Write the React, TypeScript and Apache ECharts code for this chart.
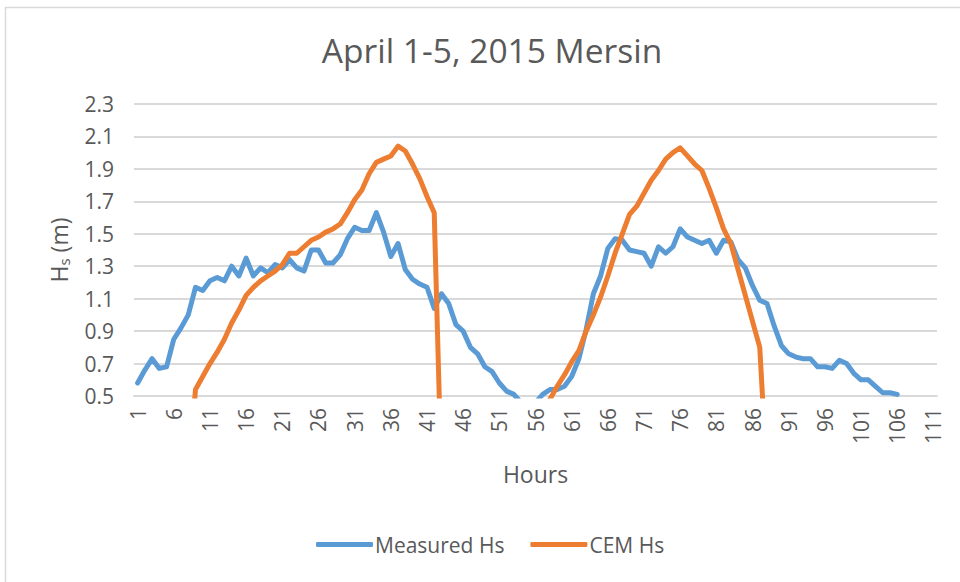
import React, { useEffect, useRef } from "react";
import * as echarts from "echarts";

const hours: string[] = Array.from({ length: 111 }, (_, i) => String(i + 1));

const measuredHs: (number | null)[] = [
  0.58, 0.66, 0.73, 0.67, 0.68, 0.85, 0.92, 1.0, 1.17, 1.15,
  1.21, 1.23, 1.21, 1.3, 1.24, 1.35, 1.24, 1.29, 1.26, 1.31,
  1.29, 1.34, 1.29, 1.27, 1.4, 1.4, 1.32, 1.32, 1.37, 1.47,
  1.54, 1.52, 1.52, 1.63, 1.51, 1.36, 1.44, 1.28, 1.22, 1.19,
  1.17, 1.04, 1.13, 1.07, 0.94, 0.9, 0.8, 0.76, 0.68, 0.65,
  0.58, 0.53, 0.51, 0.46, 0.44, 0.46, 0.51, 0.54, 0.54, 0.56,
  0.62, 0.73, 0.91, 1.13, 1.24, 1.41, 1.47, 1.46, 1.4, 1.39,
  1.38, 1.3, 1.42, 1.38, 1.42, 1.53, 1.48, 1.46, 1.44, 1.46,
  1.38, 1.46, 1.45, 1.34, 1.29, 1.18, 1.09, 1.07, 0.93, 0.81,
  0.76, 0.74, 0.73, 0.73, 0.68, 0.68, 0.67, 0.72, 0.7, 0.64,
  0.6, 0.6, 0.56, 0.52, 0.52, 0.51, null, null, null, null,
  null,
];

const cemHs: (number | null)[] = [
  0, 0, 0, 0, 0, 0, 0, 0, 0.54, 0.62,
  0.7, 0.77, 0.85, 0.95, 1.03, 1.12, 1.17, 1.21, 1.24, 1.27,
  1.31, 1.38, 1.38, 1.42, 1.46, 1.48, 1.51, 1.53, 1.56, 1.63,
  1.71, 1.77, 1.87, 1.94, 1.96, 1.98, 2.04, 2.01, 1.93, 1.84,
  1.73, 1.63, 0, 0, 0, 0, 0, 0, 0, 0,
  0, 0, 0, 0, 0, 0, 0, 0.48, 0.56, 0.63,
  0.71, 0.78, 0.9, 1.0, 1.11, 1.24, 1.38, 1.5, 1.62, 1.67,
  1.75, 1.83, 1.89, 1.96, 2.0, 2.03, 1.98, 1.93, 1.89, 1.78,
  1.66, 1.53, 1.44, 1.28, 1.12, 0.96, 0.8, 0, null, null,
  null, null, null, null, null, null, null, null, null, null,
  null, null, null, null, null, null, null, null, null, null,
  null,
];

const yMin = 0.5;
const yMax = 2.3;
const yStep = 0.2;

const FONT = "Open Sans";
const TEXT = "#595959";
const GRID = "#d9d9d9";

export default function App() {
  const ref = useRef<HTMLDivElement>(null);
  useEffect(() => {
    if (!ref.current) return;
    const chart = echarts.init(ref.current, undefined, { renderer: "svg" });
    chart.setOption({
      animation: false,
      backgroundColor: "#ffffff",
      title: {
        text: "April 1-5, 2015 Mersin",
        left: 487,
        top: 28,
        textAlign: "center",
        textStyle: { fontFamily: FONT, fontSize: 33.5, fontWeight: "normal", color: TEXT },
      },
      graphic: [
        {
          type: "rect",
          shape: { x: 5.5, y: 7.5, width: 1000, height: 700 },
          style: { fill: "none", stroke: GRID, lineWidth: 1.5 },
          silent: true,
        },
      ],
      legend: {
        left: 311,
        top: 529,
        itemWidth: 57,
        itemHeight: 5,
        itemGap: 26,
        icon: "roundRect",
        textStyle: { fontFamily: FONT, fontSize: 21, color: TEXT, padding: [0, 0, 0, -3] },
        data: ["Measured Hs", "CEM Hs"],
      },
      grid: { left: 134, right: 23, top: 104, bottom: 186, containLabel: false },
      xAxis: {
        type: "category",
        data: hours,
        boundaryGap: true,
        name: "Hours",
        nameLocation: "middle",
        nameGap: 66,
        nameTextStyle: { fontFamily: FONT, fontSize: 23, color: TEXT },
        axisLine: { show: true, lineStyle: { color: GRID, width: 1.8 } },
        axisTick: { show: false },
        axisLabel: {
          interval: 4,
          rotate: 90,
          margin: 12,
          fontFamily: FONT,
          fontSize: 21,
          color: TEXT,
        },
        splitLine: { show: false },
      },
      yAxis: {
        type: "value",
        min: yMin,
        max: yMax,
        interval: yStep,
        name: "{h|H}{s|s}{h| (m)}",
        nameLocation: "middle",
        nameRotate: 90,
        nameGap: 63,
        nameTextStyle: {
          fontFamily: FONT,
          color: TEXT,
          rich: {
            h: { fontFamily: FONT, fontSize: 23, color: TEXT },
            s: { fontFamily: FONT, fontSize: 15, color: TEXT, verticalAlign: "bottom", padding: [10, 0, 0, 0] },
          },
        },
        axisLine: { show: false },
        axisTick: { show: false },
        axisLabel: {
          margin: 20,
          fontFamily: FONT,
          fontSize: 21,
          color: TEXT,
          formatter: (v: number) => v.toFixed(1),
        },
        splitLine: { show: true, lineStyle: { color: GRID, width: 1.8 } },
      },
      series: [
        {
          name: "Measured Hs",
          type: "line",
          data: measuredHs,
          showSymbol: false,
          symbol: "none",
          clip: true,
          color: "#5B9BD5",
          lineStyle: { color: "#5B9BD5", width: 5, cap: "round", join: "round" },
        },
        {
          name: "CEM Hs",
          type: "line",
          data: cemHs,
          showSymbol: false,
          symbol: "none",
          clip: true,
          color: "#ED7D31",
          lineStyle: { color: "#ED7D31", width: 5, cap: "round", join: "round" },
        },
      ],
    });
    return () => chart.dispose();
  }, []);
  return (
    <div
      ref={ref}
      style={{ position: "absolute", left: 0, top: 0, width: 960, height: 582 }}
    />
  );
}
